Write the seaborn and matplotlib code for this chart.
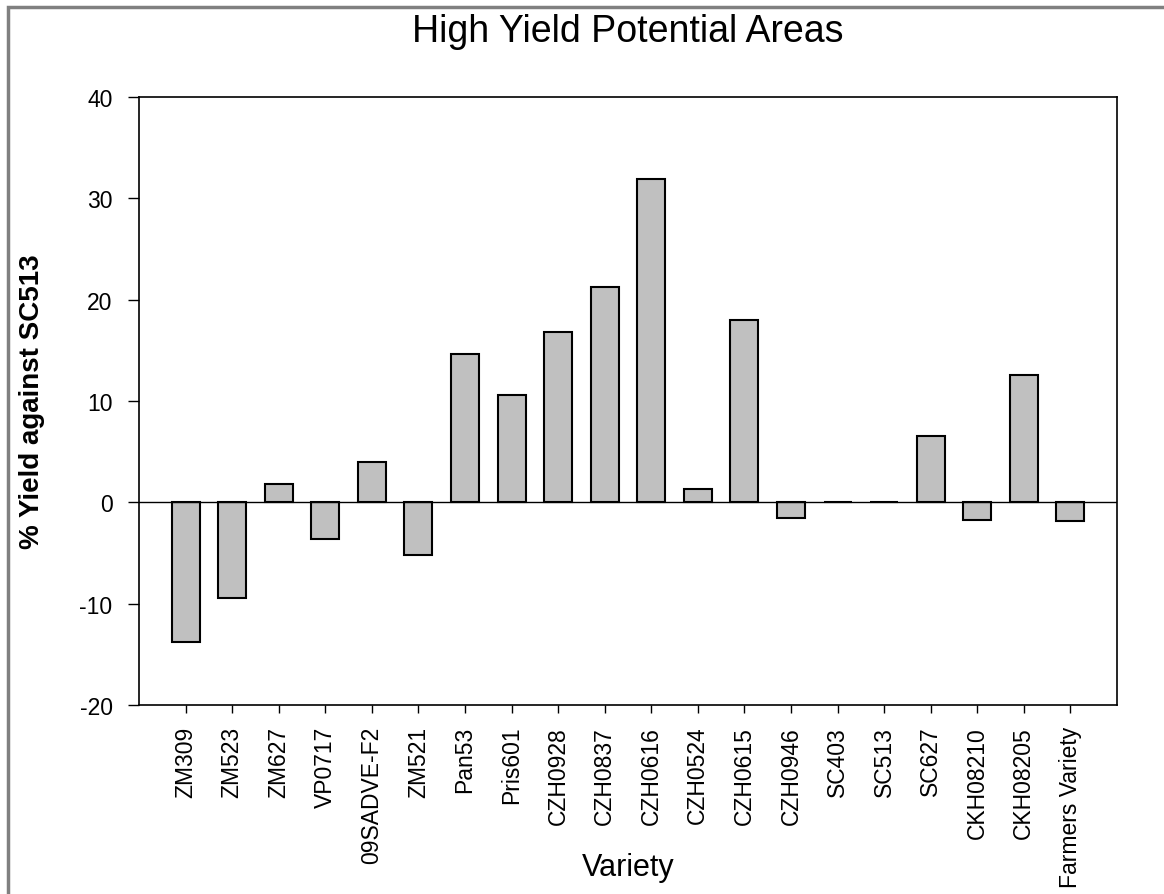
import matplotlib
matplotlib.use("Agg")
import matplotlib.pyplot as plt
import seaborn as sns
from matplotlib.patches import Rectangle

varieties = ["ZM309", "ZM523", "ZM627", "VP0717", "09SADVE-F2", "ZM521", "Pan53",
             "Pris601", "CZH0928", "CZH0837", "CZH0616", "CZH0524", "CZH0615",
             "CZH0946", "SC403", "SC513", "SC627", "CKH08210", "CKH08205",
             "Farmers Variety"]
yield_pct = [-13.8, -9.4, 1.8, -3.6, 4.0, -5.2, 14.6, 10.6, 16.8, 21.25, 31.9,
             1.3, 18.0, -1.5, 0.0, 0.0, 6.5, -1.7, 12.6, -1.85]
y_ticks = [-20, -10, 0, 10, 20, 30, 40]

sns.set_theme(style="ticks")
plt.rcParams["font.family"] = ["Liberation Sans", "DejaVu Sans"]
plt.rcParams["axes.unicode_minus"] = False
plt.rcParams["text.color"] = "black"
plt.rcParams["axes.labelcolor"] = "black"

W, H = 1164, 895
fig = plt.figure(figsize=(W / 100, H / 100), dpi=100)
ax = fig.add_axes([139 / W, 1 - 706 / H, (1117 - 139) / W, (706 - 98) / H])

sns.barplot(x=varieties, y=yield_pct, color="#c0c0c0", saturation=1,
            edgecolor="black", linewidth=1.5, width=0.6, ax=ax)

ax.axhline(0, color="black", lw=1.0, zorder=3)
ax.set_xlim(-1, 20)
ax.set_ylim(-20, 40)
ax.set_yticks(y_ticks)

for s in ax.spines.values():
    s.set_visible(True)
    s.set_color("black")
    s.set_linewidth(1.2)

ax.tick_params(axis="x", direction="out", length=6, width=1, pad=9,
               labelsize=16.5, rotation=90, colors="black")
ax.tick_params(axis="y", direction="out", length=8, width=1, pad=11,
               labelsize=16.5, colors="black")

ax.set_xlabel("Variety", fontsize=22)
ax.xaxis.set_label_coords(0.5, (706 - 868) / 608)
ax.xaxis.label.set_va("center")

ax.set_ylabel("% Yield against SC513", fontsize=20, fontweight="bold")
ax.yaxis.set_label_coords((32 - 139) / 978, 0.5)
ax.yaxis.label.set_va("center")

ax.set_title("High Yield Potential Areas", fontsize=27, pad=40, color="black")

# outer frame of the exported graph page
fig.patches.append(Rectangle((8 / W, -0.05), 1.2, 1 - 8 / H + 0.05,
                             transform=fig.transFigure, fill=False,
                             edgecolor="#808080", lw=2.5))

fig.savefig("out.png", dpi=100)
